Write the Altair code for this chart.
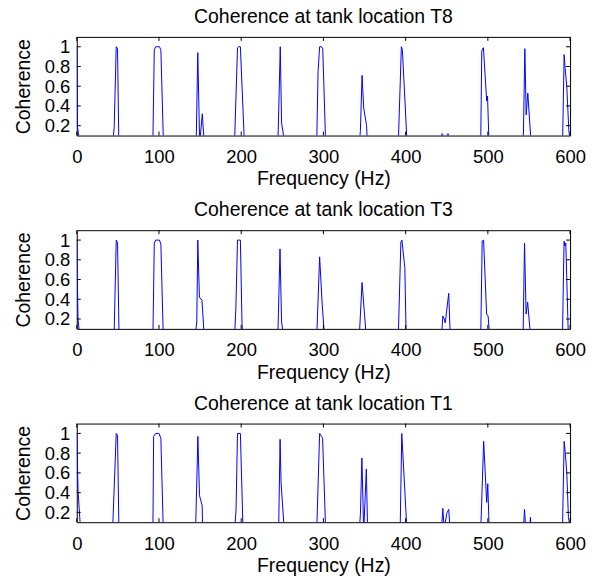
import altair as alt
import pandas as pd

# ---------------- data ----------------
freq_T8 = [0, 1, 4,
           43.5, 45.5, 48, 49.6, 51.2,
           92.5, 94.3, 96, 98, 100.5, 102.3, 105.5,
           145.2, 147.2, 149.5, 152.7, 155.2,
           191.8, 195.5, 197, 199, 204,
           244.6, 247.5, 249.1, 253.3,
           291.8, 293.5, 295.4, 297.8, 299.2, 302.8,
           343.5, 345, 347, 349, 352.5, 353.5,
           391, 394.8, 396, 399.5, 401.8,
           443, 443.6, 444.4, 445.2, 446,
           450, 450.6, 451.4, 452.2, 453,
           491.3, 492.6, 494.6, 498.6, 499.6, 501.5,
           543, 545, 546.6, 548.6, 552.8,
           590.8, 592.8, 594, 596, 598.5, 600]
coh_T8 = [1.0, 0.18, 0.0,
          0.0, 0.18, 1.0, 0.98, 0.0,
          0.0, 0.97, 1.0, 1.0, 1.0, 0.97, 0.0,
          0.0, 0.94, 0.02, 0.32, 0.0,
          0.0, 0.99, 1.0, 1.0, 0.0,
          0.0, 1.0, 0.23, 0.0,
          0.0, 0.75, 1.0, 1.0, 0.98, 0.0,
          0.0, 0.15, 0.71, 0.38, 0.2, 0.0,
          0.0, 1.0, 0.97, 0.4, 0.0,
          0.0, 0.11, 0.12, 0.11, 0.0,
          0.0, 0.11, 0.12, 0.11, 0.0,
          0.0, 0.96, 0.99, 0.45, 0.5, 0.0,
          0.0, 0.98, 0.31, 0.53, 0.0,
          0.0, 0.92, 0.78, 0.6, 0.15, 0.05]

freq_T3 = [0, 1.5, 4,
           45.3, 48, 49.6, 51.5,
           92.6, 94.3, 96, 100.5, 102.3, 105.3,
           144, 146, 147.2, 149.2, 152.3, 155.2,
           191.8, 193.5, 195.5, 199, 201, 202,
           244.5, 247.2, 249.1, 252,
           291.8, 295.4, 298.5, 301.5,
           343.5, 347, 352.3,
           391, 394.2, 395.5, 399, 400.7,
           443.5, 445.2, 447, 448.2, 452.4, 454.4,
           491.3, 493.1, 494.8, 498.5, 500.3, 502.5,
           542.8, 544.6, 546.5, 548.4, 552.2,
           590.7, 592.7, 593.8, 594.8, 598, 600]
coh_T3 = [1.0, 0.2, 0.0,
          0.0, 1.0, 0.97, 0.0,
          0.0, 0.97, 1.0, 1.0, 0.96, 0.0,
          0.0, 0.18, 1.0, 0.42, 0.39, 0.0,
          0.0, 0.3, 1.0, 1.0, 0.15, 0.0,
          0.0, 0.91, 0.17, 0.0,
          0.0, 0.83, 0.35, 0.0,
          0.0, 0.57, 0.0,
          0.0, 0.98, 1.0, 0.72, 0.0,
          0.0, 0.23, 0.2, 0.16, 0.46, 0.0,
          0.0, 0.99, 1.0, 0.25, 0.23, 0.0,
          0.0, 0.97, 0.25, 0.37, 0.0,
          0.0, 0.99, 0.94, 0.97, 0.0, 0.0]

freq_T1 = [0, 1.6, 4.8,
           43.5, 48, 49.6, 51.3,
           92.6, 93.5, 96, 100, 102.3, 105.3,
           144.5, 147.3, 149.3, 152.5, 153.2,
           191.8, 193.7, 195.5, 199, 202.3,
           245.5, 247.3, 248.5, 252.5,
           291.8, 295.4, 297.8, 299, 302.8,
           343.5, 345, 346.8, 349, 352.2, 353.8,
           393.3, 395.3, 399, 401.7,
           443.5, 445.2, 447, 450, 452.4, 454.3,
           491.3, 494.9, 498.6, 499.9, 501.7,
           543, 544.6, 546.4, 550.8, 551.8, 552.8,
           590.7, 592.8, 594, 596, 598, 600]
coh_T1 = [1.0, 0.41, 0.0,
          0.0, 1.0, 0.98, 0.0,
          0.0, 0.97, 1.0, 1.0, 0.95, 0.0,
          0.0, 0.97, 0.37, 0.27, 0.0,
          0.0, 0.22, 1.0, 1.0, 0.0,
          0.0, 0.94, 0.5, 0.0,
          0.0, 1.0, 0.97, 0.95, 0.0,
          0.0, 0.18, 0.75, 0.0, 0.64, 0.0,
          0.0, 1.0, 0.42, 0.0,
          0.0, 0.24, 0.02, 0.19, 0.23, 0.0,
          0.0, 0.92, 0.3, 0.49, 0.0,
          0.0, 0.23, 0.0, 0.0, 0.15, 0.0,
          0.0, 0.92, 0.82, 0.6, 0.15, 0.05]

panels = ["T8", "T3", "T1"]
x_ticks = [0, 100, 200, 300, 400, 500, 600]
y_ticks = [0.2, 0.4, 0.6, 0.8, 1.0]

W, H = 495, 99
FONT = "Liberation Sans"

xscale = alt.Scale(domain=[0, 600], nice=False, zero=False)
yscale = alt.Scale(domain=[0.1, 1.1], nice=False, zero=False)
xaxis = alt.Axis(values=x_ticks, title="Frequency (Hz)", ticks=False,
                 domain=False, grid=False, labelPadding=12, titlePadding=4,
                 format="d", labelFlush=False)
yaxis = alt.Axis(values=y_ticks, title="Coherence", ticks=False,
                 domain=False, grid=False, labelPadding=7, titlePadding=11,
                 format=".1~f")


def panel(name, f, c):
    df = pd.DataFrame({"Frequency": f, "Coherence": c})
    X = alt.X("Frequency:Q", scale=xscale, axis=xaxis)
    Y = alt.Y("Coherence:Q", scale=yscale, axis=yaxis)
    line = alt.Chart(df).mark_line(color="#0000ff", strokeWidth=1, clip=True).encode(x=X, y=Y)
    xt = pd.DataFrame({"Frequency": x_ticks})
    yt = pd.DataFrame({"Coherence": y_ticks})
    top_ticks = alt.Chart(xt).mark_rule(color="black", strokeWidth=1).encode(
        x=X, y=alt.value(0), y2=alt.value(4))
    bot_ticks = alt.Chart(xt).mark_rule(color="black", strokeWidth=1).encode(
        x=X, y=alt.value(H - 4), y2=alt.value(H))
    left_ticks = alt.Chart(yt).mark_rule(color="black", strokeWidth=1).encode(
        y=Y, x=alt.value(0), x2=alt.value(4))
    right_ticks = alt.Chart(yt).mark_rule(color="black", strokeWidth=1).encode(
        y=Y, x=alt.value(W - 4), x2=alt.value(W))
    return alt.layer(line, top_ticks, bot_ticks, left_ticks, right_ticks).properties(
        width=W, height=H,
        title=alt.TitleParams(f"Coherence at tank location {name}", anchor="middle",
                              fontSize=19.5, fontWeight="normal", font=FONT,
                              color="black", offset=9),
    )


chart = alt.vconcat(
    panel(panels[0], freq_T8, coh_T8),
    panel(panels[1], freq_T3, coh_T3),
    panel(panels[2], freq_T1, coh_T1),
    spacing=10,
).properties(
    padding={"left": 4, "top": -3, "right": 5, "bottom": 0}
).configure(font=FONT).configure_view(
    stroke="black", strokeWidth=1
).configure_axis(
    labelFont=FONT, titleFont=FONT, labelFontSize=18.5, titleFontSize=19.5,
    titleFontWeight="normal", labelColor="black", titleColor="black"
)

chart.save("out.html", embed_options={"renderer": "svg", "actions": False})
